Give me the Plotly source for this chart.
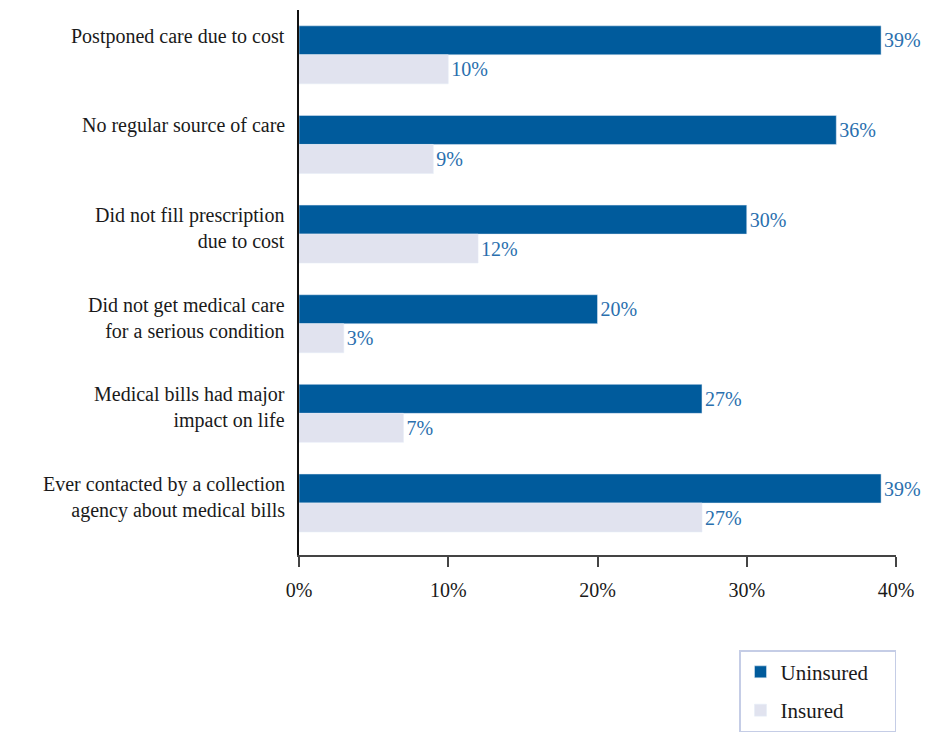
import plotly.graph_objects as go

# data (top to bottom)
categories = [
    "Postponed care due to cost",
    "No regular source of care",
    "Did not fill prescription<br>due to cost",
    "Did not get medical care<br>for a serious condition",
    "Medical bills had major<br>impact on life",
    "Ever contacted by a collection<br>agency about medical bills",
]
uninsured = [39, 36, 30, 20, 27, 39]
insured = [10, 9, 12, 3, 7, 27]
x_ticks = [0, 10, 20, 30, 40]
x_tick_labels = ["0%", "10%", "20%", "30%", "40%"]

SERIF = "Liberation Serif, Times New Roman, serif"
DARK_BLUE = "#005b9c"
LIGHT = "#e1e3ef"
LABEL_BLUE = "#2a6fae"

fig = go.Figure()

fig.add_trace(go.Bar(
    y=list(range(len(categories))), x=uninsured, orientation="h",
    name="Uninsured&nbsp;&nbsp;&nbsp;&nbsp;", legendgroup="u", marker_color=DARK_BLUE,
    text=[f"{v}%" for v in uninsured], textposition="outside",
    textfont=dict(color=LABEL_BLUE, size=20, family=SERIF),
    cliponaxis=False,
))
fig.add_trace(go.Bar(
    y=list(range(len(categories))), x=insured, orientation="h",
    name="Insured", legendgroup="i", marker_color=LIGHT,
    text=[f"{v}%" for v in insured], textposition="outside",
    textfont=dict(color=LABEL_BLUE, size=20, family=SERIF),
    cliponaxis=False,
))

# category labels, top-aligned with the first bar of each group
for i, cat in enumerate(categories):
    fig.add_annotation(
        x=0, xref="paper", y=i, yref="y",
        text=cat, showarrow=False, align="right",
        xanchor="right", yanchor="top", xshift=-12, yshift=32,
        font=dict(size=20, family=SERIF, color="#1a1a1a"),
    )

# page body has an 8px margin, so the figure is a little smaller
fig.update_layout(
    width=923, height=724,
    barmode="group", bargap=0.353, bargroupgap=0,
    plot_bgcolor="white", paper_bgcolor="white",
    margin=dict(l=291, r=35, t=2, b=177, autoexpand=False),
    font=dict(family=SERIF, size=20, color="#1a1a1a"),
    showlegend=True,
    legend=dict(
        x=1, xanchor="right", y=0.113, yref="container", yanchor="top",
        bordercolor="#c5cde6", borderwidth=1.5, bgcolor="white",
        font=dict(size=21, family=SERIF, color="#1a1a1a"),
        traceorder="grouped", tracegroupgap=8, itemwidth=30,
    ),
    xaxis=dict(
        range=[0, 40], tickvals=x_ticks, ticktext=x_tick_labels,
        showgrid=False, zeroline=False,
        showline=True, linecolor="#444", linewidth=1.5,
        ticks="outside", ticklen=10, tickcolor="#444", tickwidth=1.5,
        tickfont=dict(size=20, family=SERIF, color="#1a1a1a"),
        ticklabelstandoff=6,
    ),
    yaxis=dict(
        range=[5.58, -0.5], showticklabels=False, showgrid=False,
        zeroline=False, showline=True, linecolor="#111", linewidth=1.5,
        ticks="",
    ),
)

fig.write_html("out.html")
